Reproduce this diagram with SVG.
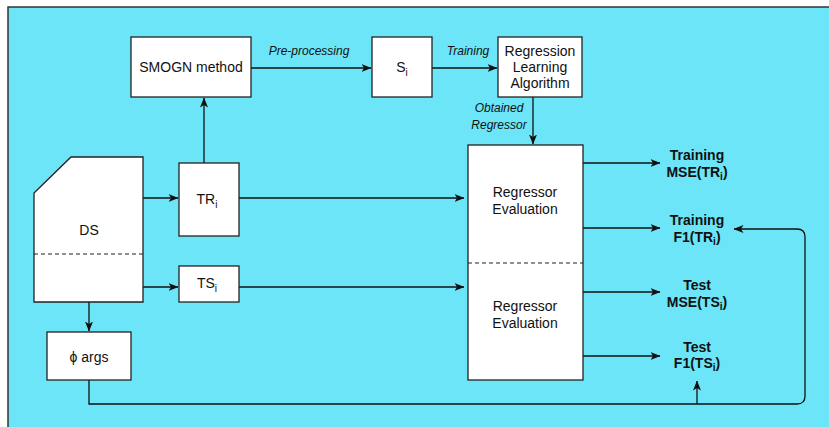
<svg xmlns="http://www.w3.org/2000/svg" width="829" height="427" viewBox="0 0 829 427">
  <defs>
    <marker id="arrow" viewBox="0 0 10 10" refX="9.5" refY="5" markerWidth="10" markerHeight="10" markerUnits="userSpaceOnUse" orient="auto">
      <path d="M0,1 L10,5 L0,9 L2.5,5 Z" fill="#111"/>
    </marker>
  </defs>
  <style>
    .box { fill: #fff; stroke: #222; stroke-width: 1.3; }
    .dash { stroke: #222; stroke-width: 1.1; stroke-dasharray: 4 3; fill: none; }
    .edge { stroke: #111; stroke-width: 1.3; fill: none; }
    .arr { marker-end: url(#arrow); }
    text { font-family: "Liberation Sans", Arial, sans-serif; fill: #111; text-anchor: middle; }
    .lbl { font-size: 14px; }
    .it { font-size: 12px; font-style: italic; }
    .out { font-size: 14px; font-weight: bold; }
    .sub { font-size: 10px; }
  </style>

  <!-- page background -->
  <rect x="0" y="0" width="829" height="427" fill="#fff"/>
  <rect x="8" y="7" width="830" height="430" fill="#6be5f7" stroke="#333" stroke-width="1.5"/>

  <!-- connectors -->
  <g id="connectors">
    <path class="edge arr" d="M251,68 H371"/>
    <path class="edge arr" d="M432,68 H497"/>
    <path class="edge arr" d="M533,97 V144"/>
    <path class="edge arr" d="M204,163 V98"/>
    <path class="edge arr" d="M143,198 H178"/>
    <path class="edge arr" d="M143,287 H178"/>
    <path class="edge arr" d="M89,302 V331"/>
    <path class="edge arr" d="M239,198 H464"/>
    <path class="edge arr" d="M239,287 H464"/>
    <path class="edge arr" d="M583,163 H660"/>
    <path class="edge arr" d="M583,228 H660"/>
    <path class="edge arr" d="M583,292 H660"/>
    <path class="edge arr" d="M583,356 H660"/>
    <path class="edge arr" d="M89,380 V404 H797 Q805,404 805,396 V237 Q805,229 797,229 H734"/>
    <path class="edge arr" d="M697,404 V381"/>
    <text class="it" x="309" y="55">Pre-processing</text>
    <text class="it" x="468" y="55">Training</text>
    <text class="it" x="499" y="112">Obtained</text>
    <text class="it" x="499" y="129">Regressor</text>
  </g>

  <g id="smogn">
    <rect class="box" x="131" y="37" width="120" height="60"/>
    <text class="lbl" x="191" y="72">SMOGN method</text>
  </g>

  <g id="si">
    <rect class="box" x="372" y="37" width="60" height="60"/>
    <text class="lbl" x="402" y="72">S<tspan class="sub" dy="4">i</tspan></text>
  </g>

  <g id="learner">
    <rect class="box" x="498" y="37" width="84" height="60"/>
    <text class="lbl" x="540" y="56">Regression</text>
    <text class="lbl" x="540" y="72">Learning</text>
    <text class="lbl" x="540" y="88">Algorithm</text>
  </g>

  <g id="ds">
    <path class="box" d="M71,157 H143 V302 H34 V193 Z"/>
    <line class="dash" x1="34" y1="254" x2="143" y2="254"/>
    <text class="lbl" x="89" y="235">DS</text>
  </g>

  <g id="tr">
    <rect class="box" x="179" y="163" width="60" height="73"/>
    <text class="lbl" x="207" y="204">TR<tspan class="sub" dy="4">i</tspan></text>
  </g>

  <g id="ts">
    <rect class="box" x="179" y="266" width="60" height="36"/>
    <text class="lbl" x="207" y="288">TS<tspan class="sub" dy="4">i</tspan></text>
  </g>

  <g id="args">
    <rect class="box" x="47" y="332" width="84" height="48"/>
    <text class="lbl" x="89" y="362">ϕ args</text>
  </g>

  <g id="evaluation">
    <rect class="box" x="468" y="145" width="115" height="235"/>
    <line class="dash" x1="468" y1="263" x2="583" y2="263"/>
    <text class="lbl" x="525" y="197">Regressor</text>
    <text class="lbl" x="525" y="214">Evaluation</text>
    <text class="lbl" x="525" y="311">Regressor</text>
    <text class="lbl" x="525" y="328">Evaluation</text>
  </g>

  <g id="train-mse">
    <text class="out" x="697" y="160">Training</text>
    <text class="out" x="697" y="177">MSE(TR<tspan class="sub" dy="3">i</tspan><tspan dy="-3">)</tspan></text>
  </g>
  <g id="train-f1">
    <text class="out" x="697" y="225">Training</text>
    <text class="out" x="697" y="242">F1(TR<tspan class="sub" dy="3">i</tspan><tspan dy="-3">)</tspan></text>
  </g>
  <g id="test-mse">
    <text class="out" x="697" y="290">Test</text>
    <text class="out" x="697" y="307">MSE(TS<tspan class="sub" dy="3">i</tspan><tspan dy="-3">)</tspan></text>
  </g>
  <g id="test-f1">
    <text class="out" x="697" y="352">Test</text>
    <text class="out" x="697" y="368">F1(TS<tspan class="sub" dy="3">i</tspan><tspan dy="-3">)</tspan></text>
  </g>
</svg>
